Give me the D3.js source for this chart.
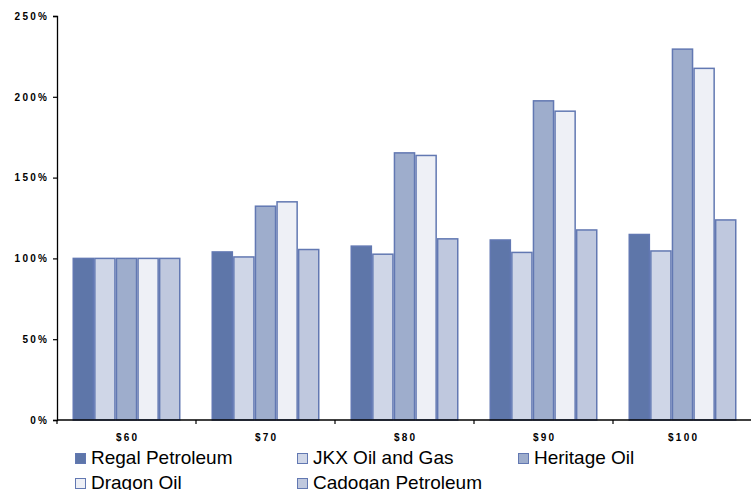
<!DOCTYPE html>
<html>
<head>
<meta charset="utf-8">
<script src="https://cdn.jsdelivr.net/npm/d3@7"></script>
<style>
    body { margin: 0; background: #fff; }
    svg { display: block; font-family: 'Liberation Sans', Arial, sans-serif; }
</style>
</head>
<body>
<div class="chart"></div>
<script>
'use strict';

// data
const categories = ['$60', '$70', '$80', '$90', '$100'];
const seriesNames = ['Regal Petroleum', 'JKX Oil and Gas', 'Heritage Oil', 'Dragon Oil', 'Cadogan Petroleum'];
const regalValues = [100, 104, 107.6, 111.4, 114.8];
const jkxValues = [100, 100.9, 102.6, 103.7, 104.6];
const heritageValues = [100, 132.3, 165.3, 197.5, 229.5];
const dragonValues = [100, 135, 163.7, 191.1, 217.6];
const cadoganValues = [100, 105.5, 112.1, 117.6, 123.8];
const yTickValues = [0, 50, 100, 150, 200, 250];

const seriesValues = [regalValues, jkxValues, heritageValues, dragonValues, cadoganValues];
const colors = ['#5e76a9', '#cfd6e7', '#9eadcc', '#eef0f6', '#bfc8de'];

const width = 751;
const height = 490;
const margin = { top: 16, right: -1, bottom: 70, left: 57 };

const svg = d3.select('.chart')
    .append('svg')
    .attr('width', width)
    .attr('height', height);

const x = d3.scaleBand()
    .domain(categories)
    .range([margin.left, width - margin.right])
    .paddingInner(0.223)
    .paddingOuter(0.1115);
const xInner = d3.scaleBand()
    .domain(seriesNames)
    .range([0, x.bandwidth()]);
const y = d3.scaleLinear()
    .domain([0, 250])
    .range([height - margin.bottom, margin.top]);

// bars
const groups = svg.append('g')
    .selectAll('g')
    .data(categories)
    .join('g')
    .attr('transform', d => `translate(${x(d)},0)`);
groups.selectAll('rect')
    .data((d, i) => seriesNames.map((name, s) => ({ name, s, value: seriesValues[s][i] })))
    .join('rect')
    .attr('x', d => xInner(d.name) + 0.75)
    .attr('width', xInner.bandwidth() - 1.5)
    .attr('y', d => y(d.value))
    .attr('height', d => y(0) - y(d.value))
    .attr('fill', d => colors[d.s])
    .attr('stroke', '#6278b2')
    .attr('stroke-width', 1.5);

// y axis
const yAxis = svg.append('g')
    .attr('transform', `translate(${margin.left},0)`)
    .call(d3.axisLeft(y).tickValues(yTickValues).tickSize(4).tickPadding(6).tickFormat(d => d + '%'));
yAxis.select('.domain').attr('stroke', '#000').attr('stroke-width', 1.3);
yAxis.selectAll('.tick line').attr('stroke', '#000').attr('stroke-width', 1.2);
yAxis.selectAll('.tick text')
    .attr('font-family', "'Liberation Sans', Arial, sans-serif")
    .attr('font-size', 10)
    .attr('font-weight', 'bold')
    .attr('letter-spacing', '2.3px')
    .attr('dx', '2.3')
    .attr('fill', '#000');

// x axis: ticks sit between the groups
const step = x.step();
const boundaries = categories.map((c, i) => x(categories[0]) - x.paddingOuter() * step + i * step);
const xAxisG = svg.append('g');
xAxisG.append('line')
    .attr('x1', margin.left)
    .attr('x2', width)
    .attr('y1', y(0))
    .attr('y2', y(0))
    .attr('stroke', '#000')
    .attr('stroke-width', 1.3);
xAxisG.selectAll('.xtick')
    .data(boundaries)
    .join('line')
    .attr('class', 'xtick')
    .attr('x1', d => d)
    .attr('x2', d => d)
    .attr('y1', y(0))
    .attr('y2', y(0) + 4)
    .attr('stroke', '#000')
    .attr('stroke-width', 1.2);
xAxisG.selectAll('.xlabel')
    .data(categories)
    .join('text')
    .attr('class', 'xlabel')
    .attr('x', d => x(d) + x.bandwidth() / 2 + 1.2)
    .attr('y', y(0) + 21)
    .attr('text-anchor', 'middle')
    .attr('font-size', 10)
    .attr('font-weight', 'bold')
    .attr('letter-spacing', '2.3px')
    .text(d => d);

// legend
const legendCols = [75, 297, 518];
const legend = svg.append('g')
    .selectAll('g')
    .data(seriesNames)
    .join('g')
    .attr('transform', (d, i) => `translate(${legendCols[i % 3]},${453 + Math.floor(i / 3) * 25})`);
legend.append('rect')
    .attr('x', 0.5)
    .attr('y', 0.5)
    .attr('width', 10)
    .attr('height', 10)
    .attr('fill', (d, i) => colors[i])
    .attr('stroke', '#6278b2')
    .attr('stroke-width', 1);
legend.append('text')
    .attr('x', 16)
    .attr('y', 11)
    .attr('font-size', 19)
    .attr('fill', '#000')
    .text(d => d);
</script>
</body>
</html>
